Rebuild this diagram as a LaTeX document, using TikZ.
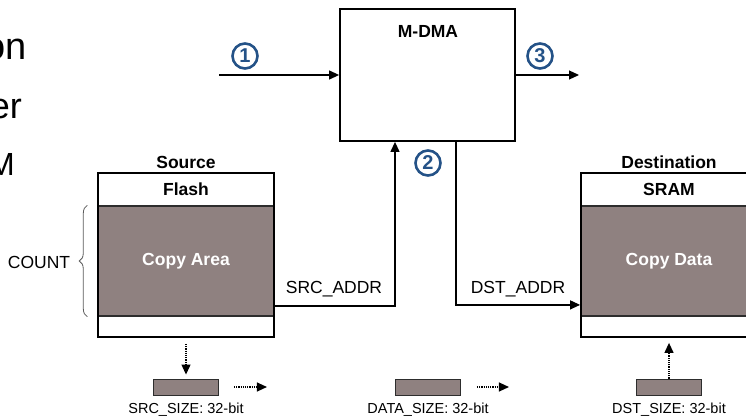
\documentclass[tikz,border=0pt]{standalone}
\usepackage{fontspec}
\setmainfont{Liberation Sans}
\usetikzlibrary{arrows.meta,decorations.pathreplacing}
\definecolor{areabrown}{RGB}{143,129,128}
\definecolor{stepblue}{RGB}{36,82,135}
\definecolor{edgegray}{RGB}{45,45,45}
\definecolor{bracegray}{RGB}{90,90,90}

\begin{document}
\begin{tikzpicture}[x=1pt,y=-1pt,
  box/.style={draw=black,line width=1.8pt,inner sep=0pt},
  area/.style={draw=edgegray,fill=areabrown,line width=1.4pt,inner sep=0pt,
    text=white,font=\bfseries\fontsize{17.5}{20}\selectfont},
  lbl/.style={font=\fontsize{17.5}{20}\selectfont,inner sep=0pt},
  blbl/.style={font=\bfseries\fontsize{17.5}{20}\selectfont,inner sep=0pt},
  sizelbl/.style={font=\fontsize{14.5}{17}\selectfont,inner sep=0pt},
  biglbl/.style={inner sep=0pt,anchor=base east},
  link/.style={line width=1.2pt,-{Triangle[length=10pt,width=9pt]}},
  dotlink/.style={line width=1.2pt,densely dotted,-{Triangle[length=10pt,width=9pt]}},
  stepnum/.style={circle,draw=stepblue,line width=2.6pt,text=stepblue,
    font=\bfseries\fontsize{20}{23}\selectfont,inner sep=0pt,minimum size=25pt},
  bar/.style={draw=edgegray,fill=areabrown,line width=0.9pt,inner sep=0pt,
    minimum width=65pt,minimum height=16pt}
]
\useasboundingbox (0,0) rectangle (746,417);
\clip (0,0) rectangle (746,417);

% words running off the left edge
\node[biglbl,font=\fontsize{38}{42}\selectfont] (w1) at (27,60) {on};
\node[biglbl,font=\fontsize{36}{40}\selectfont] (w2) at (22,118) {er};
\node[biglbl,font=\fontsize{32}{36}\selectfont] (w3) at (15,175) {M};

% M-DMA controller
\node[box,minimum width=175pt,minimum height=132pt] (mdma) at (427.5,75) {};
\node[blbl] (mdmalbl) at (428,31) {M-DMA};

% step markers
\node[stepnum] (s1) at (245,56) {1};
\node[stepnum] (s2) at (428,163) {2};
\node[stepnum] (s3) at (540,56) {3};

% request in, completion out
\coordinate (in1) at (219,75);
\coordinate (out3) at (579,75);
\draw[link] (in1) -- (mdma.west);
\draw[link] (mdma.east) -- (out3);

% source memory
\node[area,minimum width=176pt,minimum height=110pt] (srcarea) at (186,261) {Copy Area};
\node[box,minimum width=176pt,minimum height=164pt] (srcbox) at (186,255) {};
\node[blbl] (srctitle) at (186,162) {Source};
\node[blbl] (srcmem) at (186,189) {Flash};

% destination memory
\node[area,minimum width=176pt,minimum height=110pt] (dstarea) at (669,261) {Copy Data};
\node[box,minimum width=176pt,minimum height=164pt] (dstbox) at (669,255) {};
\node[blbl] (dsttitle) at (669,162) {Destination};
\node[blbl] (dstmem) at (669,189) {SRAM};

% address lines
\draw[link] ([yshift=32pt]srcbox.south east) -| ([xshift=-32.5pt]mdma.south);
\node[lbl] (srcaddr) at (334,289) {SRC\_ADDR};
\draw[link] ([xshift=28.5pt]mdma.south) |- ([yshift=33pt]dstbox.south west);
\node[lbl] (dstaddr) at (518,289) {DST\_ADDR};

% transfer count
\draw[bracegray,line width=0.8pt,decorate,decoration={brace,amplitude=8pt}]
  ([xshift=-10pt]srcarea.south west) -- ([xshift=-10pt]srcarea.north west);
\node[lbl] (count) at (39,262) {COUNT};

% transfer widths
\node[bar] (srcbar) at (186,387) {};
\node[sizelbl] (srcsize) at (186,410) {SRC\_SIZE: 32-bit};
\node[bar] (databar) at (427.5,387) {};
\node[sizelbl] (datasize) at (428,410) {DATA\_SIZE: 32-bit};
\node[bar] (dstbar) at (669,387) {};
\node[sizelbl] (dstsize) at (669,410) {DST\_SIZE: 32-bit};

\draw[dotlink] ([yshift=-6pt]srcbox.south) -- ([yshift=4pt]srcbar.north);
\draw[dotlink] ([xshift=15pt]srcbar.east) -- ++(33,0);
\draw[dotlink] ([xshift=16.5pt]databar.east) -- ++(32,0);
\draw[dotlink] (dstbar.north) -- ([yshift=-5pt]dstbox.south);
\end{tikzpicture}
\end{document}
